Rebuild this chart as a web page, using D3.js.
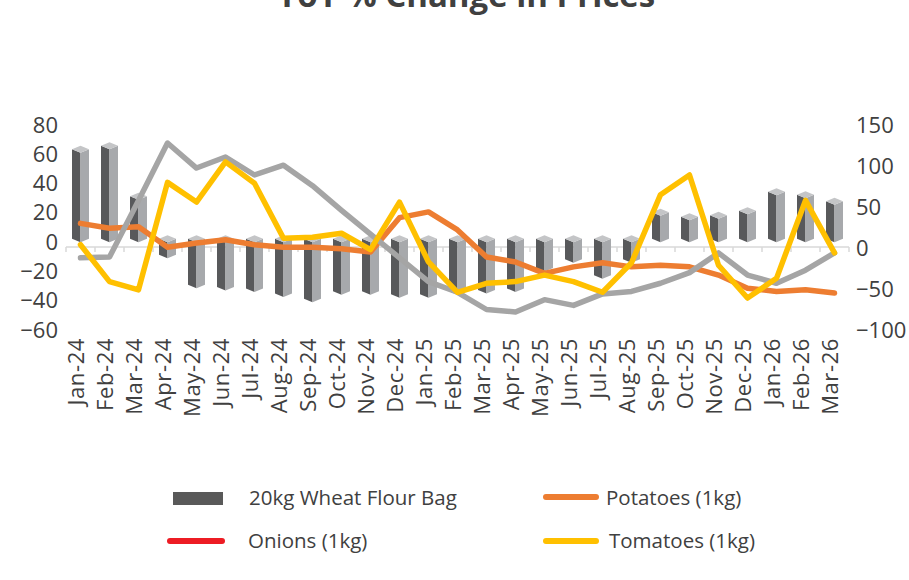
<!DOCTYPE html>
<html>
<head>
<meta charset="utf-8">
<script src="https://cdn.jsdelivr.net/npm/d3@7"></script>
<style>
  body { margin: 0; background: #fff; }
  text { font-family: "Open Sans", sans-serif; fill: #404040; }
</style>
</head>
<body>
<div id="chart"></div>
<script>
// chart data
var months = ["Jan-24","Feb-24","Mar-24","Apr-24","May-24","Jun-24","Jul-24","Aug-24","Sep-24","Oct-24","Nov-24","Dec-24",
  "Jan-25","Feb-25","Mar-25","Apr-25","May-25","Jun-25","Jul-25","Aug-25","Sep-25","Oct-25","Nov-25","Dec-25",
  "Jan-26","Feb-26","Mar-26"];
var wheat = [61, 63.5, 29, -11, -31.5, -33, -34, -37.5, -41, -36, -36, -38,
  -38, -36, -35, -34, -20, -14, -25, -14, 18, 15, 16, 19, 32, 30, 25.5];
var potatoes = [30, 24, 26, 1, 6, 10, 4, 1, 1, -1, -5, 37,
  44, 22, -11, -17, -31, -23, -18, -23, -21, -23, -33, -49, -53, -51, -55];
var onions = [-12, -11, 58, 128, 97.5, 111, 89, 101, 76, 46, 17, -12,
  -41, -54, -75, -78, -63, -70, -56, -53, -43, -30, -6, -33, -43, -27, -6];
var tomatoes = [4, -41, -51, 80, 56, 105, 79, 12, 13, 18, -2, 56,
  -17, -54, -43, -41, -33, -41, -54, -18, 65, 89, -21, -61, -37, 58, -6];
var leftTicks = [-60, -40, -20, 0, 20, 40, 60, 80];
var rightTicks = [-100, -50, 0, 50, 100, 150];

var svgWidth = 909;
var svgHeight = 580;

var svg = d3.select("#chart")
  .append("svg")
  .attr("width", svgWidth)
  .attr("height", svgHeight);

// scales
var x = d3.scaleBand().domain(months).range([66, 849]).padding(0);
var yLeft = d3.scaleLinear().domain([-60, 80]).range([330, 125]);
var yRight = d3.scaleLinear().domain([-100, 150]).range([330, 125]);
var cx = function(m) { return x(m) + x.bandwidth() / 2; };

// title (cut at top of the picture, as in the source)
svg.append("text")
  .attr("x", 466)
  .attr("y", 7)
  .attr("text-anchor", "middle")
  .attr("font-size", "33px")
  .attr("font-weight", "bold")
  .text("YoY % Change in Prices");

// category axis line with ticks at band edges
var axisY = 247;
svg.append("line")
  .attr("x1", x.range()[0]).attr("x2", x.range()[1])
  .attr("y1", axisY).attr("y2", axisY)
  .attr("stroke", "#d9d9d9").attr("stroke-width", 1.5);
svg.selectAll(".xtick")
  .data(months.concat(["end"]))
  .enter()
  .append("line")
  .attr("x1", (d, i) => i < months.length ? x(d) : x.range()[1])
  .attr("x2", (d, i) => i < months.length ? x(d) : x.range()[1])
  .attr("y1", axisY).attr("y2", axisY + 5)
  .attr("stroke", "#d9d9d9").attr("stroke-width", 1.5);

// 3D boxes for wheat flour
var hw = 8.5, sl = 3.5;
var bars = svg.append("g");
months.forEach(function(m, i) {
  var c = cx(m);
  var v = wheat[i];
  var yTop = v >= 0 ? yLeft(v) : yLeft(0);
  var yBase = v >= 0 ? yLeft(0) : yLeft(v);
  bars.append("polygon")
    .attr("points", [[c - hw, yTop - sl], [c, yTop], [c, yBase], [c - hw, yBase - sl]].join(" "))
    .attr("fill", "#58595b");
  bars.append("polygon")
    .attr("points", [[c, yTop], [c + hw, yTop - sl], [c + hw, yBase - sl], [c, yBase]].join(" "))
    .attr("fill", "#a7a9ac");
  bars.append("polygon")
    .attr("points", [[c - hw, yTop - sl], [c, yTop], [c + hw, yTop - sl], [c, yTop - 2 * sl]].join(" "))
    .attr("fill", "#c4c5c7");
});

// lines on the right axis
var line = d3.line()
  .x((d, i) => cx(months[i]))
  .y(d => yRight(d));

var series = [
  { values: potatoes, color: "#ed7d31" },
  { values: onions, color: "#a5a5a5" },
  { values: tomatoes, color: "#ffc000" }
];
series.forEach(function(s) {
  svg.append("path")
    .datum(s.values)
    .attr("d", line)
    .attr("fill", "none")
    .attr("stroke", s.color)
    .attr("stroke-width", 5.5)
    .attr("stroke-linejoin", "round")
    .attr("stroke-linecap", "round");
});

// y axes
var leftAxis = svg.append("g")
  .attr("transform", "translate(60, 0)")
  .call(d3.axisLeft(yLeft).tickValues(leftTicks).tickSize(0).tickPadding(2));
var rightAxis = svg.append("g")
  .attr("transform", "translate(854, 0)")
  .call(d3.axisRight(yRight).tickValues(rightTicks).tickSize(0).tickPadding(2));
[leftAxis, rightAxis].forEach(function(a) {
  a.select(".domain").remove();
  a.selectAll("text")
    .attr("font-size", "22px")
    .attr("font-family", "Open Sans, sans-serif")
    .attr("fill", "#404040");
});

// category labels
svg.selectAll(".xlabel")
  .data(months)
  .enter()
  .append("text")
  .attr("transform", d => `translate(${cx(d) - 4}, 338) rotate(-90)`)
  .attr("text-anchor", "end")
  .attr("dy", "0.36em")
  .attr("font-size", "22px")
  .attr("letter-spacing", "0.6px")
  .text(d => d);

// legend
var legend = svg.append("g");
legend.append("rect")
  .attr("x", 173).attr("y", 492).attr("width", 50).attr("height", 13)
  .attr("fill", "#595959");
legend.append("text").attr("x", 249).attr("y", 498).attr("dy", "0.35em")
  .attr("font-size", "20.5px").text("20kg Wheat Flour Bag");

legend.append("line")
  .attr("x1", 546).attr("x2", 596).attr("y1", 497).attr("y2", 497)
  .attr("stroke", "#ed7d31").attr("stroke-width", 6).attr("stroke-linecap", "round");
legend.append("text").attr("x", 606).attr("y", 498).attr("dy", "0.35em")
  .attr("font-size", "20.5px").text("Potatoes (1kg)");

legend.append("line")
  .attr("x1", 170).attr("x2", 222).attr("y1", 541).attr("y2", 541)
  .attr("stroke", "#ed1c24").attr("stroke-width", 6).attr("stroke-linecap", "round");
legend.append("text").attr("x", 248).attr("y", 541).attr("dy", "0.35em")
  .attr("font-size", "20.5px").text("Onions (1kg)");

legend.append("line")
  .attr("x1", 546).attr("x2", 596).attr("y1", 541).attr("y2", 541)
  .attr("stroke", "#ffc000").attr("stroke-width", 6).attr("stroke-linecap", "round");
legend.append("text").attr("x", 609).attr("y", 541).attr("dy", "0.35em")
  .attr("font-size", "20.5px").text("Tomatoes (1kg)");
</script>
</body>
</html>
